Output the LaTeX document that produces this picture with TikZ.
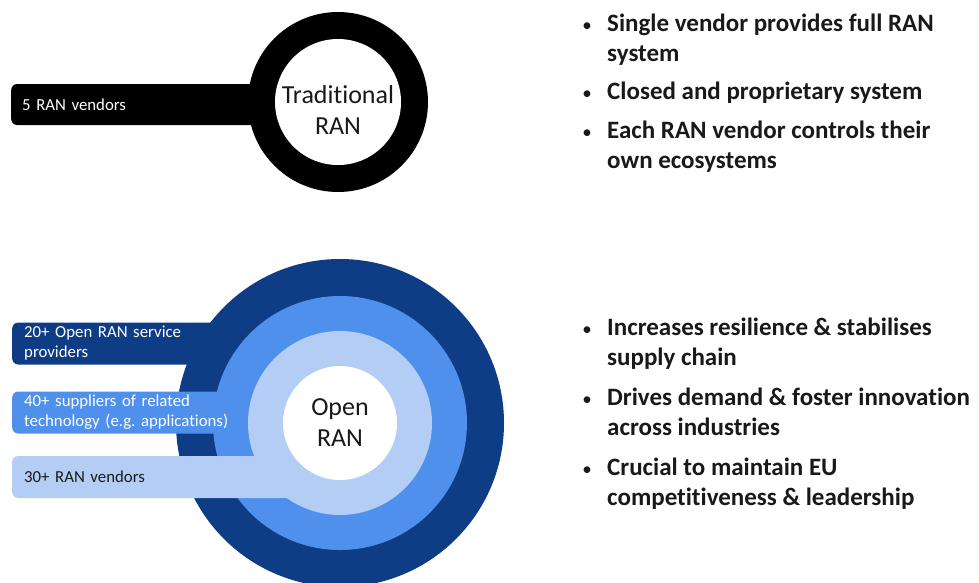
\documentclass[tikz,border=0pt]{standalone}
\usepackage{fontspec}
\setmainfont{Carlito}[Ligatures=NoCommon]

\definecolor{ranDark}{RGB}{14,61,133}
\definecolor{ranMid}{RGB}{79,144,236}
\definecolor{ranLight}{RGB}{179,205,244}
\definecolor{ranText}{RGB}{25,25,25}

\begin{document}
\begin{tikzpicture}[x=1pt,y=-1pt,
    disc/.style={circle, inner sep=0pt, draw=none, minimum size=#1},
    bar/.style={anchor=west, rounded corners=6pt, minimum height=42pt, inner xsep=12pt, inner ysep=0pt,
        text width=#1, align=left, font=\fontsize{16.8}{20}\selectfont},
    bigtext/.style={align=center, text=ranText, inner sep=0pt, font=\fontsize{26}{31}\selectfont},
    item/.style={anchor=base west, inner sep=0pt, align=left, text=ranText, font=\bfseries\fontsize{25}{30}\selectfont},
    dot/.style={anchor=base, inner sep=0pt, text=ranText, font=\fontsize{19}{30}\selectfont}]
    \useasboundingbox (0,0) rectangle (979,582);
    \clip (0,0) rectangle (979,582);

    % traditional RAN
    \node[disc=180pt, fill=black] (trad) at (338,102) {};
    \node[bar=305pt, fill=black, text=white, inner xsep=11pt, minimum height=41pt] (tradbar) at (11,104.5) {5 RAN vendors};
    \node[disc=126pt, fill=white] (tradcore) at (trad) {};
    \node[bigtext] (tradlbl) at (338,110) {Traditional\\RAN};

    % open RAN, outside in
    \node[disc=328pt, fill=ranDark] (open) at (340,423) {};
    \node[bar=304pt, fill=ranDark, text=white] (service) at (12,343.5) {20+ Open RAN service\\providers};
    \node[disc=254pt, fill=ranMid] (openmid) at (open) {};
    \node[bar=304pt, fill=ranMid, text=white] (suppliers) at (12,412.5) {40+ suppliers of related\\technology (e.g.\ applications)};
    \node[disc=184pt, fill=ranLight] (openin) at (open) {};
    \node[bar=304pt, fill=ranLight, text=ranText] (vendors) at (12,477) {30+ RAN vendors};
    \node[disc=114pt, fill=white] (opencore) at (open) {};
    \node[bigtext] (openlbl) at (open) {Open\\RAN};

    % bullet lists (base = last line)
    \foreach \y [count=\i] in {31,99,138,335,405,475}
        \node[dot] (dot\i) at (587,\y) {\textbullet};

    \node[item] (trad1) at (607,61) {Single vendor provides full RAN\\system};
    \node[item] (trad2) at (607,99) {Closed and proprietary system};
    \node[item] (trad3) at (607,168) {Each RAN vendor controls their\\own ecosystems};
    \node[item] (open1) at (607,365) {Increases resilience \& stabilises\\supply chain};
    \node[item] (open2) at (607,435) {Drives demand \& foster innovation\\across industries};
    \node[item] (open3) at (607,505) {Crucial to maintain EU\\competitiveness \& leadership};
\end{tikzpicture}
\end{document}
